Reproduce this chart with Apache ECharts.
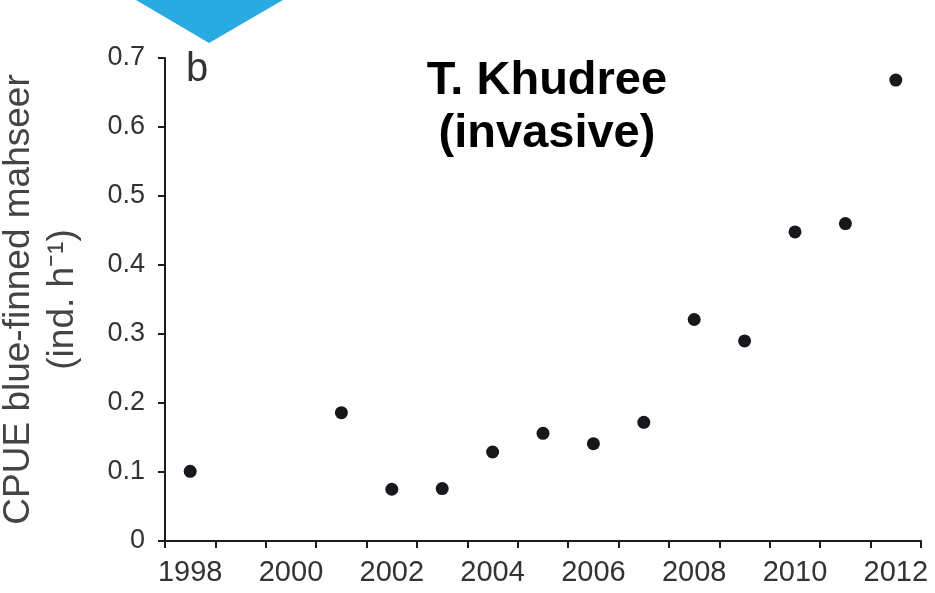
<!DOCTYPE html>
<html>
<head>
<meta charset="utf-8">
<script src="https://cdn.jsdelivr.net/npm/echarts@6/dist/echarts.min.js"></script>
<style>
  html, body { margin: 0; padding: 0; background: #fff; }
  #chart { width: 935px; height: 593px; }
</style>
</head>
<body>
<div id="chart"></div>
<script>
// x categories, one per year; ticks sit between them
const years = ["1998", "1999", "2000", "2001", "2002", "2003", "2004", "2005",
  "2006", "2007", "2008", "2009", "2010", "2011", "2012"];

// survey years with CPUE values (ind. h^-1)
const sampleYears = ["1998", "2001", "2002", "2003", "2004", "2005", "2006",
  "2007", "2008", "2009", "2010", "2011", "2012"];
const cpue = [0.101, 0.186, 0.075, 0.076, 0.129, 0.156, 0.141,
  0.172, 0.321, 0.290, 0.448, 0.460, 0.668];

const yTicks = ["0", "0.1", "0.2", "0.3", "0.4", "0.5", "0.6", "0.7"];

const chart = echarts.init(document.getElementById("chart"));

const axisColor = "#1c1c1c";
const labelColor = "#333";

const option = {
  animation: false,
  backgroundColor: "#fff",
  title: {
    text: "T. Khudree\n(invasive)",
    left: 542,
    top: 50,
    textAlign: "center",
    textStyle: {
      fontFamily: "Liberation Sans",
      fontWeight: "bold",
      fontSize: 47,
      lineHeight: 53,
      color: "#000",
    },
  },
  graphic: [
    {
      type: "polygon",
      shape: { points: [[136, 0], [283, 0], [209, 43]] },
      style: { fill: "#29abe2" },
    },
    {
      type: "text",
      left: 186,
      top: 50,
      style: {
        text: "b",
        font: "40px Liberation Sans",
        fill: "#333",
      },
    },
  ],
  grid: {
    left: 165,
    right: 14,
    top: 58,
    bottom: 52,
    outerBoundsMode: "none",
    containLabel: false,
  },
  xAxis: {
    type: "category",
    data: years,
    boundaryGap: true,
    axisLine: { lineStyle: { color: axisColor, width: 2 } },
    axisTick: { show: true, interval: 0, alignWithLabel: false, length: 7, lineStyle: { color: axisColor, width: 2 } },
    axisLabel: {
      interval: 1,
      margin: 17,
      fontFamily: "Liberation Sans",
      fontSize: 29,
      color: labelColor,
    },
    splitLine: { show: false },
  },
  yAxis: {
    type: "value",
    min: 0,
    max: 0.7,
    interval: 0.1,
    name: "CPUE blue-finned mahseer\n(ind. h\u207b\u00b9)",
    nameLocation: "middle",
    nameRotate: 90,
    nameGap: 80,
    nameTextStyle: {
      fontFamily: "Liberation Sans",
      fontSize: 37,
      lineHeight: 44,
      color: "#444",
    },
    axisLine: { show: true, lineStyle: { color: axisColor, width: 2 } },
    axisTick: { show: true, length: 7, lineStyle: { color: axisColor, width: 2 } },
    axisLabel: {
      margin: 20,
      fontFamily: "Liberation Sans",
      fontSize: 27,
      color: labelColor,
      formatter: (v) => yTicks[Math.round(v * 10)],
    },
    splitLine: { show: false },
  },
  series: [
    {
      type: "scatter",
      symbol: "circle",
      symbolSize: 13,
      itemStyle: { color: "#16181c", opacity: 1 },
      data: sampleYears.map((y, i) => [y, cpue[i]]),
    },
  ],
};

chart.setOption(option);
</script>
</body>
</html>
